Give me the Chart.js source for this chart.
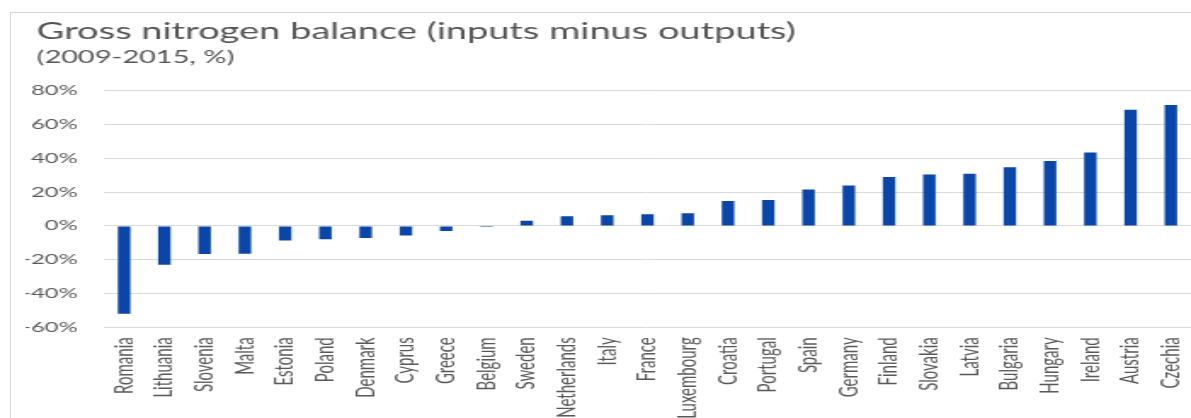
<!DOCTYPE html>
<html>
<head>
<meta charset="utf-8">
<script src="https://cdn.jsdelivr.net/npm/chart.js@4"></script>
<style>
  html, body { margin: 0; padding: 0; background: #fff; overflow: hidden; }
  #frame { position: absolute; left: 10px; top: 12px; width: 1200px; height: 420px;
           border-left: 1px solid #d6d6d6; border-top: 1px solid #d6d6d6; }
  /* the reference picture is stretched sideways, so the chart is drawn narrow and widened */
  #wrap { position: absolute; left: 0; top: 0; width: 700px; height: 418px;
          transform: scaleX(1.70143); transform-origin: 0 0; }
</style>
</head>
<body>
<div id="frame"></div>
<div id="wrap"><canvas id="nitrogen" width="700" height="418"></canvas></div>
<script>
const countries = ['Romania', 'Lithuania', 'Slovenia', 'Malta', 'Estonia', 'Poland', 'Denmark',
  'Cyprus', 'Greece', 'Belgium', 'Sweden', 'Netherlands', 'Italy', 'France', 'Luxembourg',
  'Croatia', 'Portugal', 'Spain', 'Germany', 'Finland', 'Slovakia', 'Latvia', 'Bulgaria',
  'Hungary', 'Ireland', 'Austria', 'Czechia']
const balance = [-52, -23, -16.6, -16.5, -8.7, -7.9, -7.1, -5.7, -3, -0.6, 3.1, 5.7, 6.3, 6.9,
  7.5, 14.8, 15.4, 21.5, 23.9, 29, 30.5, 30.9, 34.8, 38.4, 43.5, 68.8, 71.6]
const yTicks = [-60, -40, -20, 0, 20, 40, 60, 80]

const font = 'Lato, "Open Sans", sans-serif'

// titles start a little right of the y tick labels
const shiftTitles = {
  id: 'shiftTitles',
  afterLayout(chart) {
    chart.boxes.forEach(b => {
      if (b.options && b.options.text !== undefined && b.fullSize) b.left += 6.6
    })
  }
}

setup()

function setup() {
  const ctx = document.getElementById('nitrogen').getContext('2d')
  const chart = new Chart(ctx, {
    type: 'bar',
    data: {
      labels: countries,
      datasets: [
        {
          label: 'Gross nitrogen balance',
          data: balance,
          backgroundColor: '#0a45a8',
          borderWidth: 0,
          barPercentage: 0.31,
          categoryPercentage: 1
        }
      ]
    },
    options: {
      responsive: false,
      animation: false,
      devicePixelRatio: 1,
      layout: { padding: { left: 15, right: 0, top: 0, bottom: 0 } },
      plugins: {
        legend: { display: false },
        tooltip: { enabled: false },
        title: {
          display: true,
          text: 'Gross nitrogen balance (inputs minus outputs)',
          align: 'start',
          color: '#555555',
          font: { family: font, size: 22.3, weight: 'normal' },
          padding: { top: 18, bottom: 0 }
        },
        subtitle: {
          display: true,
          text: '(2009-2015, %)',
          align: 'start',
          color: '#555555',
          font: { family: font, size: 17, weight: 'normal' },
          padding: { top: 2.9, bottom: 22.7 }
        }
      },
      scales: {
        x: {
          grid: { display: false },
          border: { display: false },
          ticks: {
            color: '#595959',
            font: { family: font, size: 15 },
            minRotation: 90,
            maxRotation: 90,
            autoSkip: false,
            padding: 2
          },
          afterFit(scale) {
            scale.height = 90.7
            scale.paddingLeft = 0
            scale.paddingRight = 0
          }
        },
        y: {
          min: -60,
          max: 80,
          afterBuildTicks(scale) { scale.ticks = yTicks.map(v => ({ value: v })) },
          grid: { color: '#d9d9d9', lineWidth: 1, drawTicks: false },
          border: { display: false },
          ticks: {
            color: '#595959',
            font: { family: font, size: 14 },
            padding: 15.5,
            callback: v => v + '%'
          },
          afterFit(scale) { scale.width = 46.1 }
        }
      }
    },
    plugins: [shiftTitles]
  })
  console.log(chart.chartArea)
}
</script>
</body>
</html>
